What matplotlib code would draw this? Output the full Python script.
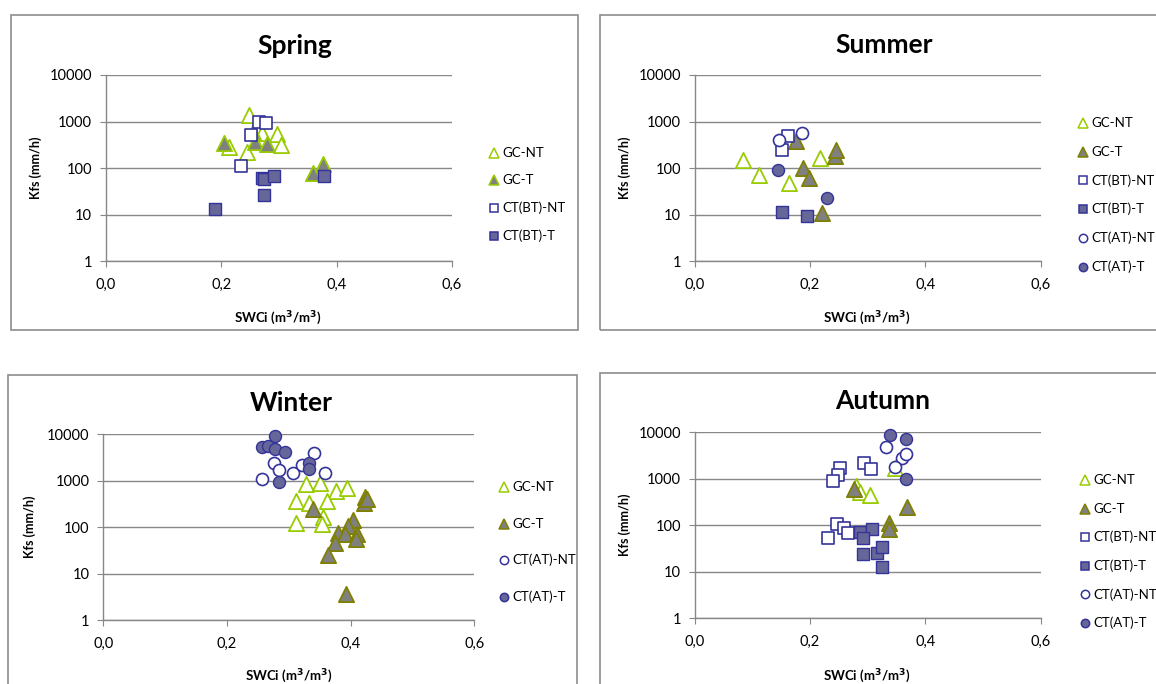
import numpy as np
import matplotlib
matplotlib.use("Agg")
import matplotlib.pyplot as plt
from matplotlib.patches import Rectangle
from matplotlib.ticker import FixedLocator, FixedFormatter

plt.rcParams['font.family'] = ['Lato', 'DejaVu Sans']

# ---- data (SWCi, Kfs) ----
# Spring
sp_gcnt_x = [0.249, 0.213, 0.245, 0.270, 0.297, 0.303]
sp_gcnt_y = [1380, 280, 219, 560, 540, 315]
sp_gct_x = [0.205, 0.256, 0.258, 0.279, 0.360, 0.377]
sp_gct_y = [340, 600, 360, 325, 80, 123]
sp_btnt_x = [0.266, 0.277, 0.252, 0.235]
sp_btnt_y = [980, 950, 510, 110]
sp_btt_x = [0.189, 0.270, 0.275, 0.292, 0.275, 0.378]
sp_btt_y = [13.5, 60, 58, 68, 26, 67]

# Summer
su_gcnt_x = [0.084, 0.111, 0.163, 0.218]
su_gcnt_y = [150, 73, 47, 168]
su_gct_x = [0.176, 0.188, 0.199, 0.220, 0.243, 0.245]
su_gct_y = [385, 100, 60, 10.7, 182, 240]
su_btnt_x = [0.162, 0.152]
su_btnt_y = [490, 245]
su_btt_x = [0.152, 0.194]
su_btt_y = [11.3, 9.4]
su_atnt_x = [0.146, 0.186]
su_atnt_y = [400, 580]
su_att_x = [0.145, 0.229]
su_att_y = [91, 23]

# Winter
wi_gcnt_x = [0.328, 0.351, 0.376, 0.394, 0.312, 0.333, 0.361, 0.356, 0.312, 0.353]
wi_gcnt_y = [860, 910, 595, 705, 370, 340, 375, 170, 124, 115]
wi_gct_x = [0.339, 0.424, 0.421, 0.427, 0.404, 0.396, 0.380, 0.391, 0.410, 0.409,
            0.375, 0.363, 0.392]
wi_gct_y = [244, 445, 340, 400, 144, 107, 77, 71, 72, 55, 45, 26, 3.7]
wi_atnt_x = [0.256, 0.276, 0.284, 0.307, 0.322, 0.340, 0.359]
wi_atnt_y = [1100, 2380, 1690, 1500, 2190, 3900, 1500]
wi_att_x = [0.278, 0.257, 0.267, 0.278, 0.294, 0.332, 0.332, 0.284]
wi_att_y = [9200, 5400, 5700, 4750, 4150, 2450, 1780, 940]

# Autumn
au_gcnt_x = [0.347, 0.280, 0.286, 0.304]
au_gcnt_y = [1740, 700, 530, 450]
au_gct_x = [0.276, 0.369, 0.337, 0.337]
au_gct_y = [590, 250, 114, 83]
au_btnt_x = [0.252, 0.249, 0.240, 0.294, 0.305, 0.246, 0.259, 0.265, 0.231]
au_btnt_y = [1740, 1200, 895, 2230, 1620, 105, 87, 67, 54]
au_btt_x = [0.286, 0.307, 0.292, 0.292, 0.316, 0.324, 0.324]
au_btt_y = [71, 83, 54, 24, 26, 35, 13]
au_atnt_x = [0.331, 0.359, 0.366, 0.347]
au_atnt_y = [4750, 2850, 3400, 1820]
au_att_x = [0.338, 0.366, 0.366]
au_att_y = [8750, 7200, 1000]

# ---- styles ----
GREEN = '#99CC00'
GRAY = '#808080'
OLIVE = '#808000'
NAVY = '#333399'
BLUEFILL = '#666699'
GRID = '#878787'

W, H = 1156, 684
fig = plt.figure(figsize=(W / 100, H / 100), dpi=100)


def fx(x):
    return x / W


def fy(y):
    return 1 - y / H


def style(name, gct_edge=OLIVE):
    return {
        'GC-NT': dict(marker='^', s=120, facecolors='white', edgecolors=GREEN, linewidths=1.3),
        'GC-T': dict(marker='^', s=120, facecolors=GRAY, edgecolors=gct_edge, linewidths=1.3),
        'CT(BT)-NT': dict(marker='s', s=70, facecolors='white', edgecolors=NAVY, linewidths=1.2),
        'CT(BT)-T': dict(marker='s', s=70, facecolors=BLUEFILL, edgecolors=NAVY, linewidths=1.0),
        'CT(AT)-NT': dict(marker='o', s=75, facecolors='white', edgecolors=NAVY, linewidths=1.2),
        'CT(AT)-T': dict(marker='o', s=75, facecolors=BLUEFILL, edgecolors=NAVY, linewidths=1.0),
    }[name]


def panel(box, plot, title, title_xy, ylab_xy, xlab_xy, series, leg_xy, leg_dy, gct_edge=OLIVE):
    # outer chart border
    bx0, by0, bx1, by1 = box
    fig.add_artist(Rectangle((fx(bx0), fy(by1)), (bx1 - bx0) / W, (by1 - by0) / H,
                             transform=fig.transFigure, fill=False, ec='#8c8c8c', lw=1.2))
    x0, y0, x1, y1 = plot
    ax = fig.add_axes([fx(x0), fy(y1), (x1 - x0) / W, (y1 - y0) / H])
    ax.set_yscale('log')
    ax.set_xlim(0, 0.6)
    ax.set_ylim(1, 10000)
    ax.yaxis.set_major_locator(FixedLocator([1, 10, 100, 1000, 10000]))
    ax.yaxis.set_major_formatter(FixedFormatter(['1', '10', '100', '1000', '10000']))
    ax.yaxis.set_minor_locator(FixedLocator([]))
    ax.set_xticks([0, 0.2, 0.4, 0.6])
    ax.set_xticklabels(['0,0', '0,2', '0,4', '0,6'])
    for s in ['top', 'right']:
        ax.spines[s].set_visible(False)
    for s in ['left', 'bottom']:
        ax.spines[s].set_color(GRID)
        ax.spines[s].set_linewidth(1)
    ax.tick_params(axis='both', direction='out', length=4, color=GRID, labelsize=10.5,
                   labelcolor='black')
    ax.tick_params(axis='x', pad=8)
    ax.tick_params(axis='y', pad=6)
    ax.grid(axis='y', color=GRID, lw=1)
    ax.set_axisbelow(True)

    handles = []
    for name, xs, ys in series:
        h = ax.scatter(xs, ys, label=name, zorder=3, clip_on=False, **style(name, gct_edge))
        handles.append(h)

    fig.text(fx(title_xy[0]), fy(title_xy[1]), title, fontsize=19, fontweight='bold',
             ha='center', va='center')
    fig.text(fx(ylab_xy[0]), fy(ylab_xy[1]), 'Kfs (mm/h)', fontsize=9, fontweight='bold',
             rotation=90, ha='center', va='center')
    fig.text(fx(xlab_xy[0]), fy(xlab_xy[1]), r'SWCi (m$^{\mathbf{3}}$/m$^{\mathbf{3}}$)',
             fontsize=9.5, fontweight='bold', ha='center', va='center')

    # legend entries
    lx, ly = leg_xy
    for i, (h, (name, _, _)) in enumerate(zip(handles, series)):
        st = style(name, gct_edge)
        yy = ly + i * leg_dy
        fig.lines.append(plt.Line2D([fx(lx)], [fy(yy)], transform=fig.transFigure,
                                    marker=st['marker'], markersize=7.5 if st['marker'] == '^' else 6,
                                    markerfacecolor=st['facecolors'],
                                    markeredgecolor=st['edgecolors'], markeredgewidth=1.1,
                                    linestyle='none'))
        fig.text(fx(lx + 8), fy(yy), name, fontsize=9.5, ha='left', va='center')
    return ax


panel((11, 15, 578, 330), (105.7, 75, 452, 261.3), 'Spring', (295, 46), (36, 168), (278, 318),
      [('GC-NT', sp_gcnt_x, sp_gcnt_y), ('GC-T', sp_gct_x, sp_gct_y),
       ('CT(BT)-NT', sp_btnt_x, sp_btnt_y), ('CT(BT)-T', sp_btt_x, sp_btt_y)],
      (494, 153), 27.5, gct_edge=GREEN)

panel((600, 15, 1170, 330), (694.7, 75, 1040.7, 261.3), 'Summer', (884, 45), (625, 168), (867, 318),
      [('GC-NT', su_gcnt_x, su_gcnt_y), ('GC-T', su_gct_x, su_gct_y),
       ('CT(BT)-NT', su_btnt_x, su_btnt_y), ('CT(BT)-T', su_btt_x, su_btt_y),
       ('CT(AT)-NT', su_atnt_x, su_atnt_y), ('CT(AT)-T', su_att_x, su_att_y)],
      (1083, 123), 28.7)

panel((8, 375, 577, 700), (103.3, 434.3, 474.3, 620.3), 'Winter', (291, 403), (30, 527), (289, 676),
      [('GC-NT', wi_gcnt_x, wi_gcnt_y), ('GC-T', wi_gct_x, wi_gct_y),
       ('CT(AT)-NT', wi_atnt_x, wi_atnt_y), ('CT(AT)-T', wi_att_x, wi_att_y)],
      (504, 487), 36.5)

panel((600, 373, 1170, 700), (694.7, 432.3, 1040.7, 618.3), 'Autumn', (883, 401), (625, 525), (867, 676),
      [('GC-NT', au_gcnt_x, au_gcnt_y), ('GC-T', au_gct_x, au_gct_y),
       ('CT(BT)-NT', au_btnt_x, au_btnt_y), ('CT(BT)-T', au_btt_x, au_btt_y),
       ('CT(AT)-NT', au_atnt_x, au_atnt_y), ('CT(AT)-T', au_att_x, au_att_y)],
      (1085, 480), 28.6)

fig.savefig('out.png', dpi=100)
